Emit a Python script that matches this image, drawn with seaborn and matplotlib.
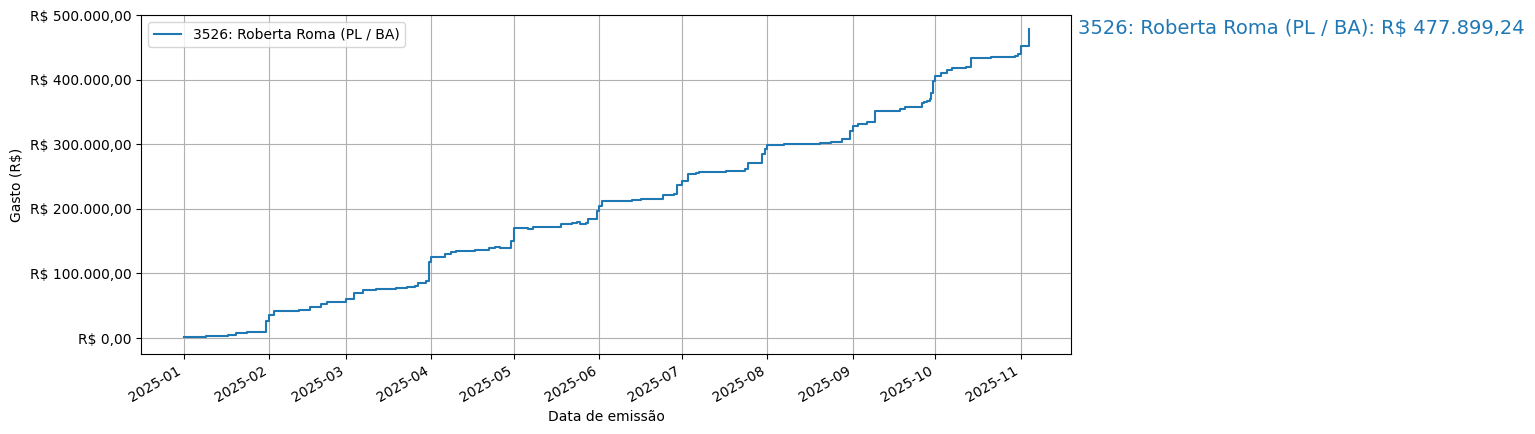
import matplotlib
matplotlib.use("Agg")
import matplotlib.pyplot as plt
import matplotlib.dates as mdates
import matplotlib.ticker as mticker
import pandas as pd
import seaborn as sns

label = "3526: Roberta Roma (PL / BA)"
dates = ["2025-01-01","2025-01-09","2025-01-17","2025-01-20","2025-01-24","2025-01-31","2025-02-01","2025-02-03",
 "2025-02-12","2025-02-16","2025-02-20","2025-02-22","2025-03-01","2025-03-04","2025-03-07","2025-03-11","2025-03-12",
 "2025-03-19","2025-03-23","2025-03-26","2025-03-27","2025-03-30","2025-03-31","2025-04-01","2025-04-06","2025-04-08",
 "2025-04-10","2025-04-17","2025-04-22","2025-04-24","2025-04-26","2025-04-30","2025-05-01","2025-05-06","2025-05-08",
 "2025-05-14","2025-05-18","2025-05-22","2025-05-24","2025-05-25","2025-05-27","2025-05-28","2025-05-31","2025-06-01",
 "2025-06-02","2025-06-13","2025-06-16","2025-06-22","2025-06-24","2025-06-28","2025-06-29","2025-07-01","2025-07-03",
 "2025-07-06","2025-07-07","2025-07-17","2025-07-24","2025-07-25","2025-07-30","2025-07-31","2025-08-01","2025-08-07",
 "2025-08-16","2025-08-20","2025-08-24","2025-08-28","2025-08-31","2025-09-01","2025-09-03","2025-09-06","2025-09-09",
 "2025-09-18","2025-09-20","2025-09-26","2025-09-27","2025-09-28","2025-09-29 00:00","2025-09-29 12:00","2025-09-30",
 "2025-10-01","2025-10-03","2025-10-05","2025-10-07","2025-10-12","2025-10-14","2025-10-20","2025-10-21","2025-10-30",
 "2025-10-31","2025-11-01","2025-11-04"]
values = [1500,2500,5000,7000,9500,27000,35000,42000,44000,48000,53000,55000,61000,70000,74000,75000,76000,78000,79000,
 80000,85000,88000,118000,126000,130000,133000,135000,137000,139000,141000,139000,151000,170000,169000,172000,172500,
 176000,178000,179000,176000,178000,184000,197000,205000,212000,213500,215000,216000,221000,223000,237000,243000,
 254000,256000,257000,258000,262000,271000,285000,293000,299000,300000,301000,302000,304000,308000,320000,329000,
 332000,334000,352000,355000,358000,364000,366000,367000,370000,380000,398000,406000,410000,415000,418000,419000,
 433000,434000,436000,437000,440000,452000,477899.24]

df = pd.DataFrame({"Data de emissão": pd.to_datetime(dates, format="mixed"), "Gasto (R$)": values})

def brl(v, pos=None):
    s = f"{v:,.2f}".replace(",", "X").replace(".", ",").replace("X", ".")
    return f"R$ {s}"

fig = plt.figure(figsize=(15.35, 4.34), dpi=100)
ax = fig.add_axes([0.092, 0.184, 0.606, 0.781])
sns.lineplot(data=df, x="Data de emissão", y="Gasto (R$)", drawstyle="steps-post", label=label, ax=ax, color="#1f77b4")
ax.grid(True)
ax.yaxis.set_major_formatter(mticker.FuncFormatter(brl))
ax.xaxis.set_major_locator(mdates.MonthLocator())
ax.xaxis.set_major_formatter(mdates.DateFormatter("%Y-%m"))
for t in ax.get_xticklabels():
    t.set_rotation(30); t.set_ha("right")
ax.set_ylim(-25000, 500000)
ax.legend(loc="upper left")
fig.text(0.7025, 0.935, f"{label}: {brl(values[-1])}", color="#1f77b4", fontsize=14, va="center")
fig.savefig("out.png", dpi=100)
